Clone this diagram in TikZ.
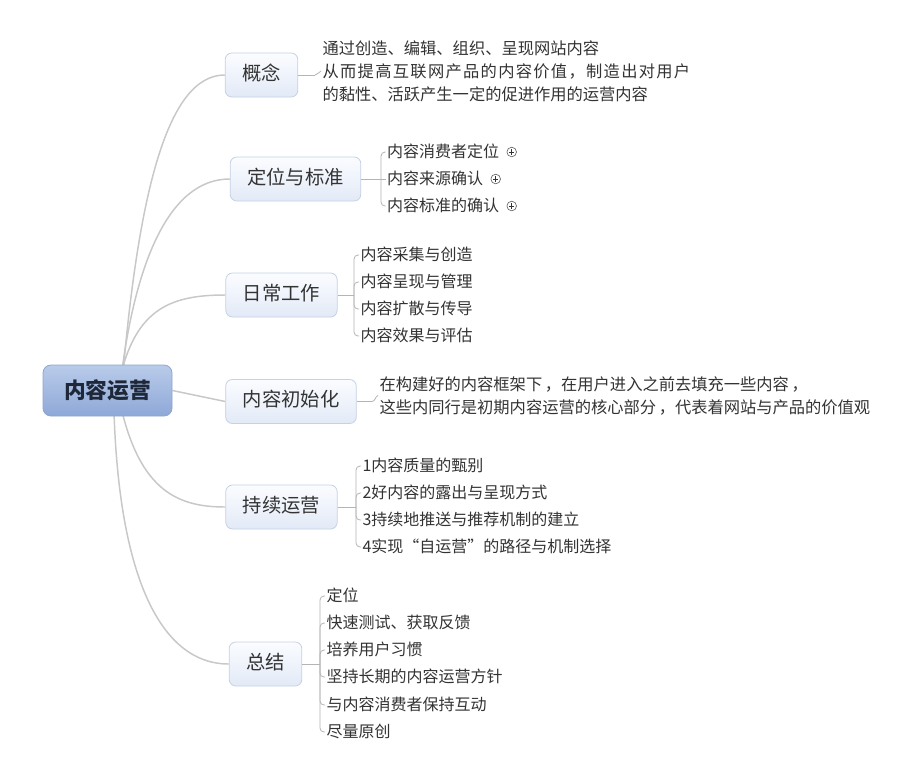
\documentclass[tikz,border=0pt]{standalone}
\usepackage{fontspec}
\setmainfont{Noto Sans CJK SC}
\usetikzlibrary{calc}
\definecolor{curvegray}{HTML}{C8C8C8}
\definecolor{bracketgray}{HTML}{B4B4B4}
\definecolor{leaftext}{HTML}{333333}
\definecolor{boxborder}{HTML}{C6D1E4}
\definecolor{boxtop}{HTML}{FBFCFF}
\definecolor{boxbottom}{HTML}{E2EAF7}
\definecolor{roottop}{HTML}{B9CBEA}
\definecolor{rootbottom}{HTML}{8EA8D7}
\definecolor{rootborder}{HTML}{8FA5CE}
\definecolor{roottext}{HTML}{1E2838}
\pgfdeclarelayer{bg}
\pgfsetlayers{bg,main}
\tikzset{
  rootbox/.style={draw=rootborder, line width=0.6pt, rounded corners=6pt,
    top color=roottop, bottom color=rootbottom, text=roottext,
    font=\fontsize{16.3pt}{18pt}\selectfont\bfseries,
    minimum width=96.75pt, minimum height=38.25pt, inner sep=0pt},
  branchbox/.style={draw=boxborder, line width=0.6pt, rounded corners=5pt,
    top color=boxtop, bottom color=boxbottom, text=leaftext,
    font=\fontsize{14.5pt}{17pt}\selectfont,
    inner xsep=12.75pt, inner ysep=0pt, minimum height=33pt,
    text height=0.88em, text depth=0.12em},
  leaf/.style={anchor=west, text=leaftext, font=\fontsize{12pt}{15pt}\selectfont,
    inner xsep=1pt, inner ysep=0pt, text height=0.88em, text depth=0.12em},
  multileaf/.style={anchor=west, text=leaftext, align=left,
    font=\fontsize{12.2pt}{17.25pt}\selectfont, inner xsep=1pt, inner ysep=0pt},
  rootcurve/.style={draw=curvegray, line width=1.1pt},
  bracket/.style={draw=bracketgray, line width=0.6pt, rounded corners=3pt},
  plusicon/.style={circle, draw=black!60, fill=white, line width=0.5pt,
    minimum size=7.2pt, inner sep=0pt,
    path picture={
      \draw[black!80, line width=0.6pt]
        ([xshift=-2pt]path picture bounding box.center) -- ([xshift=2pt]path picture bounding box.center)
        ([yshift=-2pt]path picture bounding box.center) -- ([yshift=2pt]path picture bounding box.center);
    }},
}
\begin{document}
\begin{tikzpicture}[x=0.75pt, y=-0.75pt]
\begin{pgfonlayer}{bg}
  \fill[white] (0,0) rectangle (912,782);
\end{pgfonlayer}
\useasboundingbox (0,0) rectangle (912,782);

% root
\node[rootbox] (r) at (107.5,390.5) {内容运营};

% branches
\node[branchbox] (b1) at (261.5,75) {概念};
\node[branchbox] (b2) at (295.5,179) {定位与标准};
\node[branchbox] (b3) at (281.5,295) {日常工作};
\node[branchbox] (b4) at (291,401.5) {内容初始化};
\node[branchbox] (b5) at (281.5,507) {持续运营};
\node[branchbox] (b6) at (265.5,664) {总结};

% root connectors
\begin{pgfonlayer}{bg}
  \draw[rootcurve] ($(r.center)+(14,0)$) .. controls (138,190) and (168,75) .. (b1.west);
  \draw[rootcurve] ($(r.center)+(12,0)$) .. controls (134,260) and (170,179) .. (b2.west);
  \draw[rootcurve] ($(r.center)+(10,0)$) .. controls (132,310) and (168,295) .. (b3.west);
  \draw[rootcurve] (r.east) -- (b4.west);
  \draw[rootcurve] ($(r.center)+(10,0)$) .. controls (136,490) and (176,507) .. (b5.west);
  \draw[rootcurve] ($(r.center)+(6,0)$) .. controls (116,575) and (160,664) .. (b6.west);
\end{pgfonlayer}

% 概念
\node[multileaf] (l1) at (321,71) {通过创造、编辑、组织、呈现网站内容\\{\addfontfeature{LetterSpace=8}从而提高互联网产品的内容价值，制造出对用户}\\的黏性、活跃产生一定的促进作用的运营内容};
\coordinate (j1) at (315,75);
\draw[bracket] (b1.east) -- (j1);
\draw[bracket, rounded corners=0pt] (j1) to[out=0,in=200] (l1.west);

% 定位与标准
\node[leaf] (l2a) at (385.5,152) {内容消费者定位};
\node[leaf] (l2b) at (385.5,179) {内容来源确认};
\node[leaf] (l2c) at (385.5,206) {内容标准的确认};
\node[plusicon] (p2a) at ($(l2a.east)+(11,0)$) {};
\node[plusicon] (p2b) at ($(l2b.east)+(11,0)$) {};
\node[plusicon] (p2c) at ($(l2c.east)+(11,0)$) {};
\coordinate (j2) at (381,179);
\draw[bracket] (b2.east) -- (j2);
\draw[bracket] (j2) |- (l2a.west);
\draw[bracket] (j2) -- (l2b.west);
\draw[bracket] (j2) |- (l2c.west);

% 日常工作
\node[leaf] (l3a) at (359,255) {内容采集与创造};
\node[leaf] (l3b) at (359,282) {内容呈现与管理};
\node[leaf] (l3c) at (359,309) {内容扩散与传导};
\node[leaf] (l3d) at (359,336) {内容效果与评估};
\coordinate (j3) at (354,295);
\draw[bracket] (b3.east) -- (j3);
\draw[bracket] (j3) |- (l3a.west);
\draw[bracket] (j3) |- (l3b.west);
\draw[bracket] (j3) |- (l3c.west);
\draw[bracket] (j3) |- (l3d.west);

% 内容初始化
\node[multileaf] (l4) at (378,395.5) {在构建好的内容框架下\hspace{2pt}，在用户进入之前去填充一些内容\hspace{2pt}，\\这些内同行是初期内容运营的核心部分\hspace{2pt}，代表着网站与产品的价值观};
\coordinate (j4) at (372,401.5);
\draw[bracket] (b4.east) -- (j4);
\draw[bracket, rounded corners=0pt] (j4) to[out=0,in=200] (l4.west);

% 持续运营
\node[leaf] (l5a) at (361,466) {1内容质量的甄别};
\node[leaf] (l5b) at (361,493) {2好内容的露出与呈现方式};
\node[leaf] (l5c) at (361,520) {3持续地推送与推荐机制的建立};
\node[leaf] (l5d) at (361,547) {4实现“自运营”的路径与机制选择};
\coordinate (j5) at (356,507);
\draw[bracket] (b5.east) -- (j5);
\draw[bracket] (j5) |- (l5a.west);
\draw[bracket] (j5) |- (l5b.west);
\draw[bracket] (j5) |- (l5c.west);
\draw[bracket] (j5) |- (l5d.west);

% 总结
\node[leaf] (l6a) at (325,596) {定位};
\node[leaf] (l6b) at (325,623) {快速测试、获取反馈};
\node[leaf] (l6c) at (325,650) {培养用户习惯};
\node[leaf] (l6d) at (325,677) {坚持长期的内容运营方针};
\node[leaf] (l6e) at (325,705) {与内容消费者保持互动};
\node[leaf] (l6f) at (325,732) {尽量原创};
\coordinate (j6) at (320,664);
\draw[bracket] (b6.east) -- (j6);
\draw[bracket] (j6) |- (l6a.west);
\draw[bracket] (j6) |- (l6b.west);
\draw[bracket] (j6) |- (l6c.west);
\draw[bracket] (j6) |- (l6d.west);
\draw[bracket] (j6) |- (l6e.west);
\draw[bracket] (j6) |- (l6f.west);
\end{tikzpicture}
\end{document}
